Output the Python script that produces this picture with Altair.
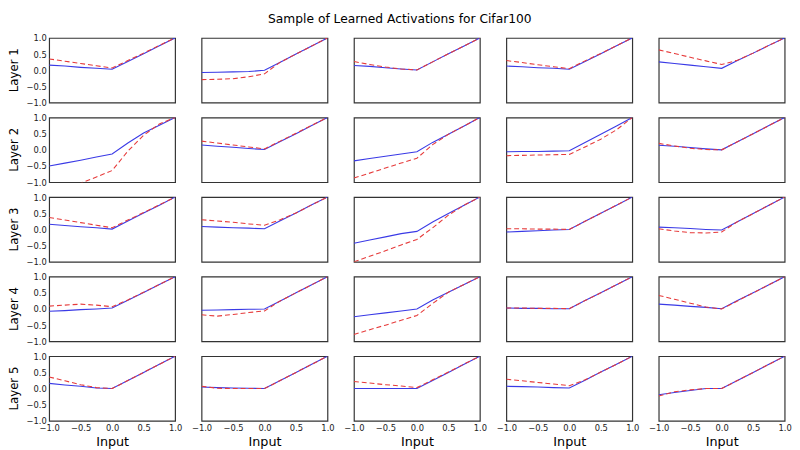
import altair as alt
import pandas as pd

# x positions at which each activation curve is sampled
x_grid = [-1.0, -0.75, -0.5, -0.25, 0.0, 0.25, 0.5, 0.75, 1.0]

layer_names = ["Layer 1", "Layer 2", "Layer 3", "Layer 4", "Layer 5"]
series_names = ["blue", "red"]

# blue solid curves, one list per column, per layer
blue_layer1 = [
    [0.16, 0.13, 0.09, 0.06, 0.03, 0.27, 0.51, 0.76, 1.0],
    [-0.07, -0.06, -0.05, -0.04, 0.0, 0.25, 0.5, 0.75, 1.0],
    [0.15, 0.12, 0.08, 0.04, 0.01, 0.26, 0.51, 0.75, 1.0],
    [0.13, 0.11, 0.08, 0.06, 0.03, 0.27, 0.51, 0.76, 1.0],
    [0.26, 0.21, 0.16, 0.11, 0.06, 0.30, 0.53, 0.77, 1.0],
]
red_layer1 = [
    [0.35, 0.28, 0.21, 0.14, 0.07, 0.30, 0.53, 0.77, 1.0],
    [-0.29, -0.28, -0.26, -0.20, -0.11, 0.25, 0.5, 0.75, 1.0],
    [0.27, 0.18, 0.10, 0.04, 0.01, 0.26, 0.51, 0.75, 1.0],
    [0.30, 0.24, 0.17, 0.11, 0.05, 0.29, 0.52, 0.76, 1.0],
    [0.63, 0.52, 0.40, 0.29, 0.18, 0.31, 0.53, 0.77, 1.0],
]
blue_layer2 = [
    [-0.50, -0.41, -0.32, -0.22, -0.13, 0.21, 0.52, 0.76, 1.0],
    [0.15, 0.11, 0.08, 0.04, 0.01, 0.26, 0.5, 0.75, 1.0],
    [-0.34, -0.27, -0.20, -0.13, -0.06, 0.23, 0.48, 0.74, 1.0],
    [-0.06, -0.05, -0.05, -0.04, -0.03, 0.23, 0.48, 0.74, 1.0],
    [0.14, 0.11, 0.07, 0.03, 0.0, 0.25, 0.5, 0.75, 1.0],
]
red_layer2 = [
    [-1.42, -1.23, -1.03, -0.84, -0.64, -0.04, 0.45, 0.80, 1.0],
    [0.27, 0.21, 0.15, 0.09, 0.03, 0.27, 0.51, 0.76, 1.0],
    [-0.87, -0.72, -0.56, -0.41, -0.26, 0.16, 0.48, 0.74, 1.0],
    [-0.18, -0.17, -0.16, -0.15, -0.14, 0.09, 0.33, 0.62, 1.0],
    [0.20, 0.12, 0.05, 0.01, 0.0, 0.25, 0.5, 0.75, 1.0],
]
blue_layer3 = [
    [0.16, 0.12, 0.08, 0.05, 0.01, 0.26, 0.51, 0.75, 1.0],
    [0.09, 0.07, 0.05, 0.04, 0.02, 0.27, 0.51, 0.76, 1.0],
    [-0.43, -0.33, -0.23, -0.13, -0.06, 0.23, 0.49, 0.75, 1.0],
    [-0.08, -0.06, -0.04, -0.02, 0.0, 0.25, 0.5, 0.75, 1.0],
    [0.07, 0.05, 0.03, 0.0, -0.02, 0.24, 0.49, 0.75, 1.0],
]
red_layer3 = [
    [0.37, 0.29, 0.21, 0.13, 0.05, 0.29, 0.52, 0.76, 1.0],
    [0.30, 0.26, 0.22, 0.17, 0.13, 0.30, 0.51, 0.76, 1.0],
    [-1.0, -0.83, -0.66, -0.48, -0.31, 0.05, 0.44, 0.75, 1.0],
    [0.02, 0.02, 0.01, 0.01, 0.0, 0.25, 0.5, 0.75, 1.0],
    [0.02, -0.05, -0.10, -0.11, -0.08, 0.24, 0.49, 0.75, 1.0],
]
blue_layer4 = [
    [-0.07, -0.05, -0.02, 0.0, 0.03, 0.27, 0.51, 0.76, 1.0],
    [-0.04, -0.03, -0.02, -0.01, 0.0, 0.25, 0.5, 0.75, 1.0],
    [-0.24, -0.18, -0.12, -0.06, 0.0, 0.28, 0.52, 0.76, 1.0],
    [0.03, 0.02, 0.02, 0.01, 0.01, 0.26, 0.5, 0.75, 1.0],
    [0.15, 0.12, 0.08, 0.05, 0.01, 0.26, 0.5, 0.75, 1.0],
]
red_layer4 = [
    [0.09, 0.12, 0.15, 0.12, 0.07, 0.28, 0.52, 0.76, 1.0],
    [-0.18, -0.22, -0.17, -0.11, -0.06, 0.25, 0.5, 0.75, 1.0],
    [-0.79, -0.64, -0.50, -0.35, -0.20, 0.17, 0.52, 0.76, 1.0],
    [0.03, 0.03, 0.02, 0.02, 0.01, 0.26, 0.5, 0.75, 1.0],
    [0.42, 0.30, 0.18, 0.06, 0.0, 0.25, 0.5, 0.75, 1.0],
]
blue_layer5 = [
    [0.16, 0.11, 0.07, 0.02, 0.0, 0.25, 0.5, 0.75, 1.0],
    [0.05, 0.03, 0.02, 0.01, 0.0, 0.25, 0.5, 0.75, 1.0],
    [0.0, 0.0, 0.0, 0.0, 0.0, 0.25, 0.5, 0.75, 1.0],
    [0.07, 0.06, 0.05, 0.03, 0.02, 0.26, 0.51, 0.75, 1.0],
    [-0.19, -0.12, -0.06, 0.0, 0.0, 0.25, 0.5, 0.75, 1.0],
]
red_layer5 = [
    [0.36, 0.24, 0.12, 0.03, 0.0, 0.25, 0.5, 0.75, 1.0],
    [0.07, 0.01, 0.0, 0.0, 0.0, 0.25, 0.5, 0.75, 1.0],
    [0.22, 0.17, 0.12, 0.08, 0.03, 0.27, 0.51, 0.76, 1.0],
    [0.29, 0.24, 0.19, 0.14, 0.09, 0.27, 0.51, 0.75, 1.0],
    [-0.23, -0.10, -0.04, 0.0, 0.0, 0.25, 0.5, 0.75, 1.0],
]

tick_values = [-1.0, -0.5, 0.0, 0.5, 1.0]

blue_all = [blue_layer1, blue_layer2, blue_layer3, blue_layer4, blue_layer5]
red_all = [red_layer1, red_layer2, red_layer3, red_layer4, red_layer5]

rows = []
for li, lname in enumerate(layer_names):
    for ci in range(5):
        for sname, src in (("blue", blue_all), ("red", red_all)):
            for k, xv in enumerate(x_grid):
                rows.append({"layer": lname, "col": ci, "series": sname,
                             "x": xv, "y": src[li][ci][k], "k": k})
df = pd.DataFrame(rows)

FONT = "DejaVu Sans"

x_enc = alt.X("x:Q", scale=alt.Scale(domain=[-1, 1], nice=False, zero=False),
              axis=alt.Axis(values=tick_values, format=".1f", title="Input",
                            labelFlush=False, labelOverlap=False, labelPadding=2))
y_enc = alt.Y("y:Q", scale=alt.Scale(domain=[-1, 1], nice=False, zero=False),
              axis=alt.Axis(values=tick_values, format=".1f", title=None,
                            labelFlush=False, labelOverlap=False, labelPadding=2))

blue_line = alt.Chart().transform_filter(alt.datum.series == "blue").mark_line(
    clip=True, color="#3a3ae6", strokeWidth=1.1
).encode(x=x_enc, y=y_enc, order="k:Q")

red_line = alt.Chart().transform_filter(alt.datum.series == "red").mark_line(
    clip=True, color="#e63a3a", strokeWidth=1.1, strokeDash=[5, 3]
).encode(x=x_enc, y=y_enc, order="k:Q")

chart = alt.layer(blue_line, red_line, data=df).properties(
    width=128.5, height=66
).facet(
    row=alt.Row("layer:N", sort=layer_names,
                header=alt.Header(title=None, labelAngle=-90, labelOrient="left",
                                  labelFont=FONT, labelFontSize=12,
                                  labelColor="#000", labelPadding=0)),
    column=alt.Column("col:O", header=alt.Header(title=None, labels=False)),
    spacing={"row": 13.2, "column": 24.5},
).properties(
    title=alt.TitleParams("Sample of Learned Activations for Cifar100",
                          font=FONT, fontSize=12.5, fontWeight="normal",
                          color="#000", anchor="middle", offset=9),
    padding={"left": 0, "top": 0, "right": 0, "bottom": 0},
).configure_view(
    stroke="#333", strokeWidth=1.2
).configure_axis(
    grid=False, domain=False, ticks=False,
    labelFont=FONT, labelFontSize=8.5, labelColor="#222",
    titleFont=FONT, titleFontSize=13, titleFontWeight="normal",
    titleColor="#000", titlePadding=3
)

chart.save("out.html", embed_options={"renderer": "svg", "actions": False})
